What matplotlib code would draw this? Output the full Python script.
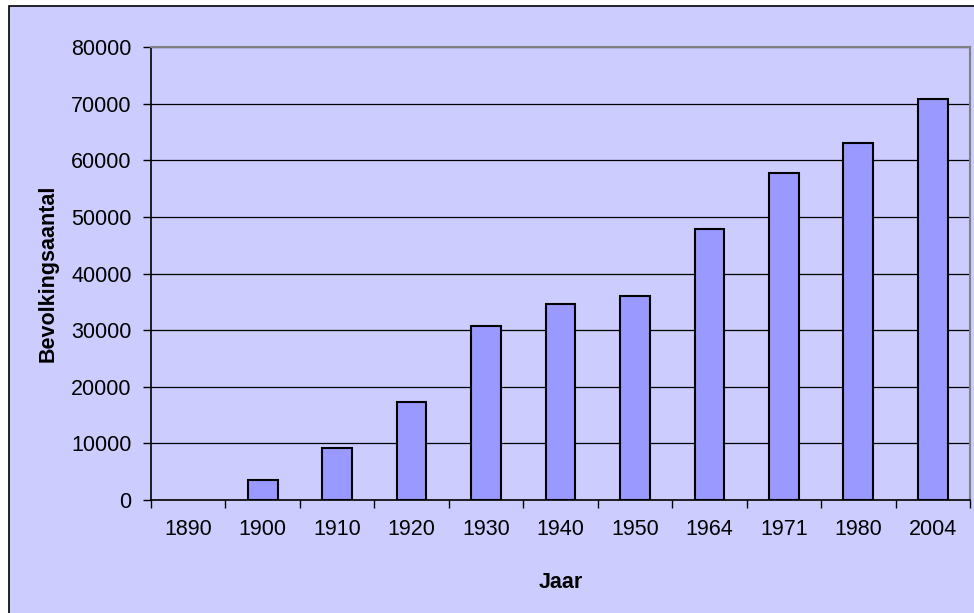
import numpy as np
import matplotlib.pyplot as plt
from matplotlib.patches import Rectangle

plt.rcParams['font.family'] = ['Liberation Sans', 'DejaVu Sans']

# data
jaren = ['1890', '1900', '1910', '1920', '1930', '1940', '1950', '1964', '1971', '1980', '2004']
bevolking = [0, 3500, 9150, 17300, 30700, 34600, 36000, 47900, 57800, 63100, 70800]

bg = '#CCCCFF'

fig = plt.figure(figsize=(9.74, 6.13), dpi=100)
fig.patch.set_facecolor('white')

# chart area with black left/top border (rest runs off the image)
fig.patches.append(Rectangle((9 / 974, -0.1), 1.1, 1 - 6.5 / 613 + 0.1,
                             transform=fig.transFigure, facecolor=bg,
                             edgecolor='black', linewidth=1.2, zorder=-10))

ax = fig.add_axes([151 / 974, 1 - 500 / 613, (970 - 151) / 974, (500 - 47) / 613])
ax.set_zorder(1)
ax.set_facecolor(bg)

x = np.arange(len(jaren))
bars = ax.bar(x, bevolking, width=0.4, color='#9999FF', edgecolor='black', linewidth=1.5, zorder=3)
# empty bar draws nothing
for b, v in zip(bars, bevolking):
    if v == 0:
        b.set_edgecolor('none')

ax.set_xlim(-0.5, len(jaren) - 0.5)
ax.set_ylim(0, 80000)

# y axis
ax.set_yticks(np.arange(0, 80001, 10000))
ax.tick_params(axis='y', direction='out', length=6, width=1, pad=8, labelsize=15.5)
ax.grid(axis='y', color='black', linewidth=0.9, zorder=1)

# x axis: ticks between categories, labels centered
ax.set_xticks(np.arange(-0.5, len(jaren), 1.0))
ax.set_xticklabels([])
ax.set_xticks(x, minor=True)
ax.set_xticklabels(jaren, minor=True)
ax.tick_params(axis='x', which='major', direction='out', length=6, width=1)
ax.tick_params(axis='x', which='minor', length=0, pad=14, labelsize=15.5)

for s in ['left', 'bottom']:
    ax.spines[s].set_color('black')
    ax.spines[s].set_linewidth(1.2)
for s in ['top', 'right']:
    ax.spines[s].set_color('#808080')
    ax.spines[s].set_linewidth(1.5)

ax.set_xlabel('Jaar', fontsize=15.5, fontweight='bold', labelpad=23)
ax.set_ylabel('Bevolkingsaantal', fontsize=15.5, fontweight='bold', labelpad=9)

plt.savefig('out.png', dpi=100, facecolor=fig.get_facecolor())
